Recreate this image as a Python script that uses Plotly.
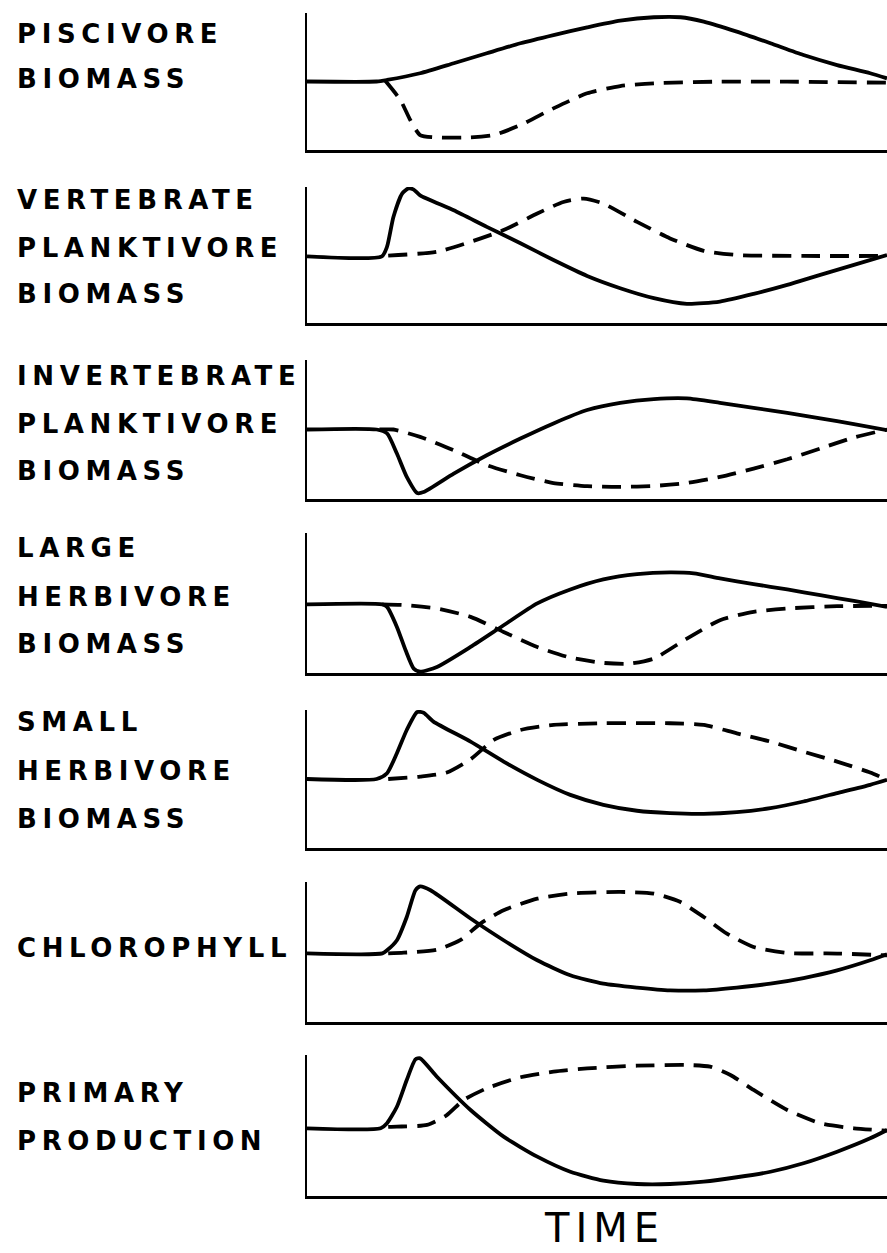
import plotly.graph_objects as go

# ---------------- data (time 0..1, value as fraction of panel height) ----------------
LABELS = [
    ["PISCIVORE", "BIOMASS"],
    ["VERTEBRATE", "PLANKTIVORE", "BIOMASS"],
    ["INVERTEBRATE", "PLANKTIVORE", "BIOMASS"],
    ["LARGE", "HERBIVORE", "BIOMASS"],
    ["SMALL", "HERBIVORE", "BIOMASS"],
    ["CHLOROPHYLL"],
    ["PRIMARY", "PRODUCTION"],
]
X_TITLE = "TIME"

P1_SOLID_T = [0, 0.12, 0.138, 0.195, 0.253, 0.310, 0.368, 0.425, 0.483, 0.540, 0.598, 0.644, 0.684, 0.741, 0.799, 0.856, 0.914, 0.971, 1.0]
P1_SOLID_Y = [0.50, 0.50, 0.511, 0.56, 0.633, 0.706, 0.779, 0.839, 0.895, 0.944, 0.969, 0.969, 0.937, 0.864, 0.779, 0.693, 0.620, 0.560, 0.523]
P1_DASH_T = [0.135, 0.161, 0.178, 0.195, 0.224, 0.282, 0.322, 0.368, 0.425, 0.483, 0.540, 0.598, 0.712, 0.828, 1.0]
P1_DASH_Y = [0.505, 0.365, 0.219, 0.109, 0.092, 0.092, 0.109, 0.182, 0.304, 0.414, 0.467, 0.487, 0.499, 0.499, 0.491]

P2_SOLID_T = [0, 0.129, 0.138, 0.149, 0.164, 0.175, 0.184, 0.195, 0.253, 0.310, 0.368, 0.425, 0.483, 0.540, 0.598, 0.655, 0.712, 0.770, 0.828, 0.885, 0.943, 1.0]
P2_SOLID_Y = [0.49, 0.49, 0.561, 0.78, 0.952, 0.99, 0.981, 0.939, 0.829, 0.707, 0.586, 0.463, 0.346, 0.256, 0.183, 0.141, 0.158, 0.214, 0.28, 0.354, 0.427, 0.50]
P2_DASH_T = [0.14, 0.224, 0.282, 0.339, 0.397, 0.442, 0.477, 0.511, 0.569, 0.626, 0.684, 0.741, 0.856, 1.0]
P2_DASH_Y = [0.495, 0.524, 0.597, 0.683, 0.805, 0.890, 0.915, 0.878, 0.744, 0.622, 0.531, 0.5, 0.493, 0.493]

P3_SOLID_T = [0, 0.12, 0.138, 0.155, 0.172, 0.190, 0.201, 0.253, 0.310, 0.368, 0.425, 0.483, 0.540, 0.598, 0.655, 0.712, 0.770, 0.828, 0.885, 0.943, 1.0]
P3_SOLID_Y = [0.50, 0.50, 0.472, 0.327, 0.159, 0.043, 0.05, 0.183, 0.315, 0.435, 0.544, 0.64, 0.692, 0.719, 0.724, 0.692, 0.656, 0.62, 0.58, 0.539, 0.495]
P3_DASH_T = [0.125, 0.149, 0.195, 0.253, 0.310, 0.368, 0.425, 0.483, 0.540, 0.598, 0.655, 0.712, 0.770, 0.828, 0.885, 0.943, 1.0]
P3_DASH_Y = [0.50, 0.50, 0.447, 0.351, 0.243, 0.171, 0.115, 0.092, 0.087, 0.094, 0.115, 0.159, 0.219, 0.286, 0.363, 0.443, 0.50]

P4_SOLID_T = [0, 0.13, 0.138, 0.155, 0.170, 0.184, 0.195, 0.224, 0.282, 0.339, 0.397, 0.454, 0.511, 0.569, 0.626, 0.667, 0.712, 0.770, 0.828, 0.885, 0.943, 1.0]
P4_SOLID_Y = [0.49, 0.49, 0.472, 0.329, 0.162, 0.031, 0.01, 0.043, 0.186, 0.341, 0.497, 0.597, 0.669, 0.707, 0.719, 0.712, 0.676, 0.635, 0.597, 0.556, 0.515, 0.472]
P4_DASH_T = [0.13, 0.167, 0.224, 0.282, 0.339, 0.397, 0.454, 0.511, 0.557, 0.598, 0.655, 0.712, 0.770, 0.828, 0.914, 1.0]
P4_DASH_Y = [0.49, 0.485, 0.461, 0.401, 0.293, 0.186, 0.11, 0.072, 0.067, 0.103, 0.246, 0.377, 0.437, 0.461, 0.477, 0.48]

P5_SOLID_T = [0, 0.12, 0.138, 0.155, 0.172, 0.190, 0.201, 0.218, 0.282, 0.339, 0.397, 0.454, 0.511, 0.569, 0.626, 0.684, 0.741, 0.799, 0.856, 0.914, 0.971, 1.0]
P5_SOLID_Y = [0.50, 0.50, 0.542, 0.687, 0.855, 0.985, 0.98, 0.916, 0.771, 0.626, 0.494, 0.385, 0.313, 0.27, 0.253, 0.248, 0.26, 0.289, 0.337, 0.398, 0.458, 0.494]
P5_DASH_T = [0.14, 0.195, 0.241, 0.282, 0.322, 0.368, 0.425, 0.511, 0.626, 0.684, 0.741, 0.799, 0.856, 0.914, 0.971, 1.0]
P5_DASH_Y = [0.50, 0.518, 0.547, 0.643, 0.783, 0.855, 0.892, 0.904, 0.904, 0.892, 0.831, 0.771, 0.698, 0.626, 0.547, 0.494]

P6_SOLID_T = [0, 0.13, 0.138, 0.155, 0.172, 0.187, 0.195, 0.213, 0.282, 0.339, 0.397, 0.454, 0.511, 0.569, 0.626, 0.684, 0.741, 0.799, 0.856, 0.914, 0.971, 1.0]
P6_SOLID_Y = [0.49, 0.49, 0.512, 0.584, 0.75, 0.941, 0.969, 0.941, 0.739, 0.584, 0.441, 0.334, 0.274, 0.246, 0.226, 0.226, 0.246, 0.274, 0.314, 0.369, 0.441, 0.484]
P6_DASH_T = [0.14, 0.167, 0.224, 0.264, 0.299, 0.339, 0.397, 0.454, 0.540, 0.598, 0.644, 0.684, 0.724, 0.770, 0.828, 0.914, 1.0]
P6_DASH_Y = [0.49, 0.495, 0.517, 0.584, 0.703, 0.798, 0.881, 0.917, 0.929, 0.917, 0.857, 0.75, 0.631, 0.536, 0.493, 0.489, 0.476]

P7_SOLID_T = [0, 0.127, 0.138, 0.155, 0.172, 0.187, 0.195, 0.224, 0.282, 0.339, 0.397, 0.454, 0.511, 0.569, 0.626, 0.684, 0.741, 0.799, 0.856, 0.914, 0.971, 1.0]
P7_SOLID_Y = [0.48, 0.48, 0.516, 0.633, 0.823, 0.969, 0.976, 0.846, 0.61, 0.421, 0.279, 0.172, 0.109, 0.085, 0.085, 0.102, 0.133, 0.172, 0.232, 0.314, 0.409, 0.468]
P7_DASH_T = [0.14, 0.155, 0.207, 0.241, 0.270, 0.310, 0.368, 0.425, 0.483, 0.569, 0.655, 0.695, 0.730, 0.770, 0.828, 0.885, 0.943, 1.0]
P7_DASH_Y = [0.49, 0.492, 0.504, 0.574, 0.681, 0.764, 0.842, 0.882, 0.905, 0.924, 0.929, 0.917, 0.858, 0.752, 0.61, 0.516, 0.48, 0.463]

SERIES = [
    (P1_SOLID_T, P1_SOLID_Y, P1_DASH_T, P1_DASH_Y),
    (P2_SOLID_T, P2_SOLID_Y, P2_DASH_T, P2_DASH_Y),
    (P3_SOLID_T, P3_SOLID_Y, P3_DASH_T, P3_DASH_Y),
    (P4_SOLID_T, P4_SOLID_Y, P4_DASH_T, P4_DASH_Y),
    (P5_SOLID_T, P5_SOLID_Y, P5_DASH_T, P5_DASH_Y),
    (P6_SOLID_T, P6_SOLID_Y, P6_DASH_T, P6_DASH_Y),
    (P7_SOLID_T, P7_SOLID_Y, P7_DASH_T, P7_DASH_Y),
]

# ---------------- layout geometry (pixels) ----------------
W, H = 887, 1253
AXIS_LEFT_PX = 307
PANEL_TOP_PX = [13, 187, 360, 533, 710, 882, 1055]
PANEL_BOT_PX = [150, 323, 499, 673, 848, 1022, 1196]
LABEL_Y_PX = [
    [34, 79],
    [200, 248, 294],
    [376, 424, 471],
    [548, 597, 644],
    [722, 771, 819],
    [948],
    [1093, 1141],
]
LABEL_X_PX = 15

fig = go.Figure()
layout = dict(
    width=W, height=H,
    margin=dict(l=0, r=0, t=0, b=0),
    paper_bgcolor="white", plot_bgcolor="white",
    showlegend=False,
)

x_dom = [AXIS_LEFT_PX / W, 1.0]
for i, (st, sy, dt, dy) in enumerate(SERIES):
    n = i + 1
    xa = "x" if n == 1 else f"x{n}"
    ya = "y" if n == 1 else f"y{n}"
    fig.add_trace(go.Scatter(x=st, y=sy, mode="lines", xaxis=xa, yaxis=ya,
                             line=dict(color="black", width=3.8, shape="spline", smoothing=0.6),
                             hoverinfo="skip"))
    fig.add_trace(go.Scatter(x=dt, y=dy, mode="lines", xaxis=xa, yaxis=ya,
                             line=dict(color="black", width=3.8, dash="19px,10px",
                                       shape="spline", smoothing=0.6),
                             hoverinfo="skip"))
    y_dom = [1 - PANEL_BOT_PX[i] / H, 1 - PANEL_TOP_PX[i] / H]
    axcommon = dict(showgrid=False, zeroline=False, showticklabels=False, ticks="",
                    showline=True, linecolor="black", fixedrange=True)
    layout["xaxis" if n == 1 else f"xaxis{n}"] = dict(
        domain=x_dom, range=[0, 1], anchor=ya, linewidth=2.8, **axcommon)
    layout["yaxis" if n == 1 else f"yaxis{n}"] = dict(
        domain=y_dom, range=[0, 1], anchor=xa, linewidth=2.4, **axcommon)

fig.update_layout(**layout)

annotations = []
for lines, ys in zip(LABELS, LABEL_Y_PX):
    for txt, ypx in zip(lines, ys):
        annotations.append(dict(
            text=txt, xref="paper", yref="paper",
            x=LABEL_X_PX / W, y=1 - ypx / H,
            xanchor="left", yanchor="middle", align="left", showarrow=False,
            font=dict(family="DejaVu Sans", size=26, color="black", weight="bold"),
        ))
annotations.append(dict(
    text=X_TITLE, xref="paper", yref="paper",
    x=542 / W, y=0,
    xanchor="left", yanchor="bottom", align="left", showarrow=False,
    font=dict(family="DejaVu Sans", size=40, color="black"),
))
fig.update_layout(annotations=annotations)

post = """
document.body.style.margin = '0';
document.body.style.padding = '0';
document.documentElement.style.overflow = 'hidden';
document.querySelectorAll('.annotation-text').forEach(function(e){
  e.style.letterSpacing = (e.textContent === 'TIME') ? '6px' : '5.6px';
});
"""
fig.write_html("out.html", post_script=post, config={"displayModeBar": False})
